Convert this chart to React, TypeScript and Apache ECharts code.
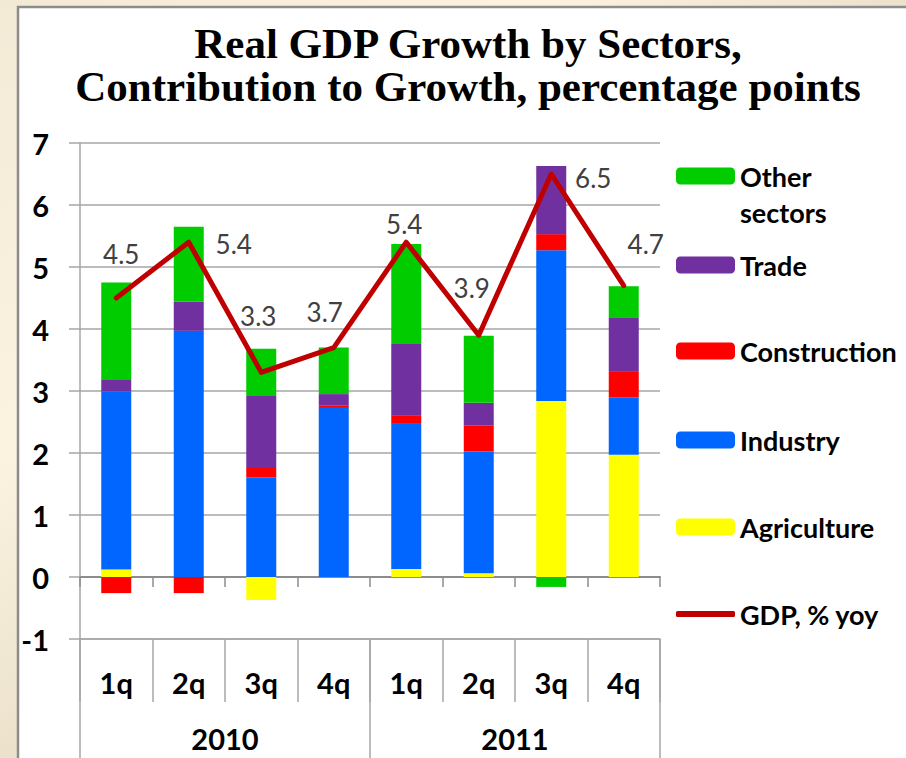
import React, { useEffect, useRef } from 'react';
import * as echarts from 'echarts';

const quarters = ['1q', '2q', '3q', '4q', '1q', '2q', '3q', '4q'];
const years = ['2010', '2011'];
const yMin = -1;
const yMax = 7;
const yStep = 1;

const agriculture = [0.12, 0, -0.37, 0, 0.13, 0.06, 2.84, 1.97];
const industry = [2.87, 3.97, 1.61, 2.74, 2.34, 1.97, 2.43, 0.93];
const construction = [-0.26, -0.26, 0.15, 0.03, 0.14, 0.41, 0.26, 0.42];
const trade = [0.2, 0.47, 1.16, 0.18, 1.15, 0.37, 1.1, 0.87];
const otherSectors = [1.56, 1.21, 0.76, 0.75, 1.61, 1.08, -0.16, 0.5];
const gdp = [4.5, 5.4, 3.3, 3.7, 5.4, 3.9, 6.5, 4.7];

// label offsets (styling) for GDP data labels
const gdpLabelOffsets = [
  [5, -44],
  [45, 2],
  [-3, -56],
  [-9, -36],
  [-2, -18],
  [-7, -47],
  [42, 4],
  [22, -42],
];

const FONT = 'Lato, "Noto Sans", sans-serif';
const AXIS_GRAY = '#8C8C8C';
const GRID_GRAY = '#A6A6A6';

const barSeries = [
  { name: 'Agriculture', data: agriculture, color: '#FFFF00' },
  { name: 'Industry', data: industry, color: '#0066FF' },
  { name: 'Construction', data: construction, color: '#FF0000' },
  { name: 'Trade', data: trade, color: '#7030A0' },
  { name: 'Other sectors', data: otherSectors, color: '#00CC00' },
];

const legendTextStyle = {
  fontFamily: FONT,
  fontWeight: 'bold' as const,
  fontSize: 27,
  color: '#000',
  lineHeight: 30,
};

function makeLegend(name: string, centerY: number, extra: any = {}) {
  return {
    data: [name],
    orient: 'vertical',
    left: 676,
    top: centerY - 15,
    itemWidth: 59,
    itemHeight: 17,
    itemGap: 0,
    padding: 0,
    selectedMode: false,
    textStyle: legendTextStyle,
    ...extra,
  };
}

export default function App() {
  const ref = useRef<HTMLDivElement>(null);

  useEffect(() => {
    const chart = echarts.init(ref.current!, null, { renderer: 'svg' });

    const option: any = {
      animation: false,
      backgroundColor: {
        type: 'linear',
        x: 0,
        y: 0,
        x2: 1,
        y2: 1,
        colorStops: [
          { offset: 0, color: '#F3EAD6' },
          { offset: 0.3, color: '#FBF3E0' },
          { offset: 0.5, color: '#ECE2CC' },
          { offset: 0.7, color: '#FAF2DE' },
          { offset: 1, color: '#EEE4CF' },
        ],
      },
      graphic: [
        {
          type: 'rect',
          z: -10,
          silent: true,
          shape: { x: 18, y: 7, width: 900, height: 760 },
          style: { fill: '#FFFFFF', stroke: '#8C8C8C', lineWidth: 2.5 },
        },
        {
          type: 'text',
          z: 10,
          silent: true,
          style: {
            text: 'Real GDP Growth by Sectors,\nContribution to Growth, percentage points',
            x: 468,
            y: 22,
            align: 'center',
            verticalAlign: 'top',
            fontFamily: '"Liberation Serif", "Times New Roman", serif',
            fontWeight: 'bold',
            fontSize: 43,
            lineHeight: 43,
            fill: '#000',
          },
        },
      ],
      grid: { left: 80, right: 246, top: 143, bottom: 119, containLabel: false },
      legend: [
        makeLegend('Other sectors', 176, {
          top: 176 - 54,
          formatter: () => '\nOther\nsectors',
          textStyle: { ...legendTextStyle, lineHeight: 36 },
        }),
        makeLegend('Trade', 265),
        makeLegend('Construction', 351),
        makeLegend('Industry', 440),
        makeLegend('Agriculture', 527),
        makeLegend('GDP, % yoy', 614, {
          itemHeight: 6,
          data: [{ name: 'GDP, % yoy', icon: 'roundRect', itemStyle: { color: '#C00000' } }],
        }),
      ],
      xAxis: [
        {
          type: 'category',
          data: quarters,
          position: 'bottom',
          axisLine: { onZero: true, lineStyle: { color: AXIS_GRAY, width: 2 } },
          axisTick: { show: true, length: 10, lineStyle: { color: AXIS_GRAY, width: 1.5 } },
          axisLabel: { show: false },
          splitLine: { show: false },
        },
        {
          type: 'category',
          data: quarters,
          position: 'bottom',
          axisLine: { onZero: false, show: true, lineStyle: { color: GRID_GRAY, width: 1.5 } },
          axisTick: { show: true, length: 63, lineStyle: { color: GRID_GRAY, width: 1.5 } },
          axisLabel: {
            margin: 29,
            fontFamily: FONT,
            fontWeight: 'bold',
            fontSize: 29,
            color: '#000',
          },
          splitLine: { show: false },
        },
        {
          type: 'category',
          data: years,
          position: 'bottom',
          axisLine: { onZero: false, show: false },
          axisTick: { show: true, length: 125, lineStyle: { color: GRID_GRAY, width: 1.5 } },
          axisLabel: {
            margin: 85,
            fontFamily: FONT,
            fontWeight: 'bold',
            fontSize: 29,
            color: '#000',
          },
          splitLine: { show: false },
        },
      ],
      yAxis: {
        type: 'value',
        min: yMin,
        max: yMax,
        interval: yStep,
        axisLine: { show: true, lineStyle: { color: GRID_GRAY, width: 1.5 } },
        axisTick: { show: true, length: 11, lineStyle: { color: GRID_GRAY, width: 1.5 } },
        splitLine: { show: true, lineStyle: { color: GRID_GRAY, width: 1.5 } },
        axisLabel: {
          margin: 31,
          fontFamily: FONT,
          fontWeight: 'bold',
          fontSize: 29,
          color: '#000',
        },
      },
      series: [
        ...barSeries.map((s) => ({
          name: s.name,
          type: 'bar',
          stack: 'total',
          xAxisIndex: 0,
          barWidth: 30,
          data: s.data,
          itemStyle: { color: s.color },
          z: 2,
        })),
        {
          name: 'GDP, % yoy',
          type: 'line',
          xAxisIndex: 0,
          data: gdp.map((v, i) => ({
            value: v,
            label: { offset: gdpLabelOffsets[i] },
          })),
          symbol: 'circle',
          symbolSize: 2,
          itemStyle: { color: '#C00000' },
          lineStyle: { color: '#C00000', width: 5, cap: 'round', join: 'round' },
          label: {
            show: true,
            position: 'inside',
            fontFamily: FONT,
            fontSize: 26,
            color: '#404040',
            formatter: (p: any) => p.value.toFixed(1),
          },
          z: 5,
        },
      ],
    };

    chart.setOption(option);
    return () => chart.dispose();
  }, []);

  return (
    <div
      ref={ref}
      style={{ position: 'fixed', left: 0, top: 0, width: 906, height: 758 }}
    />
  );
}
